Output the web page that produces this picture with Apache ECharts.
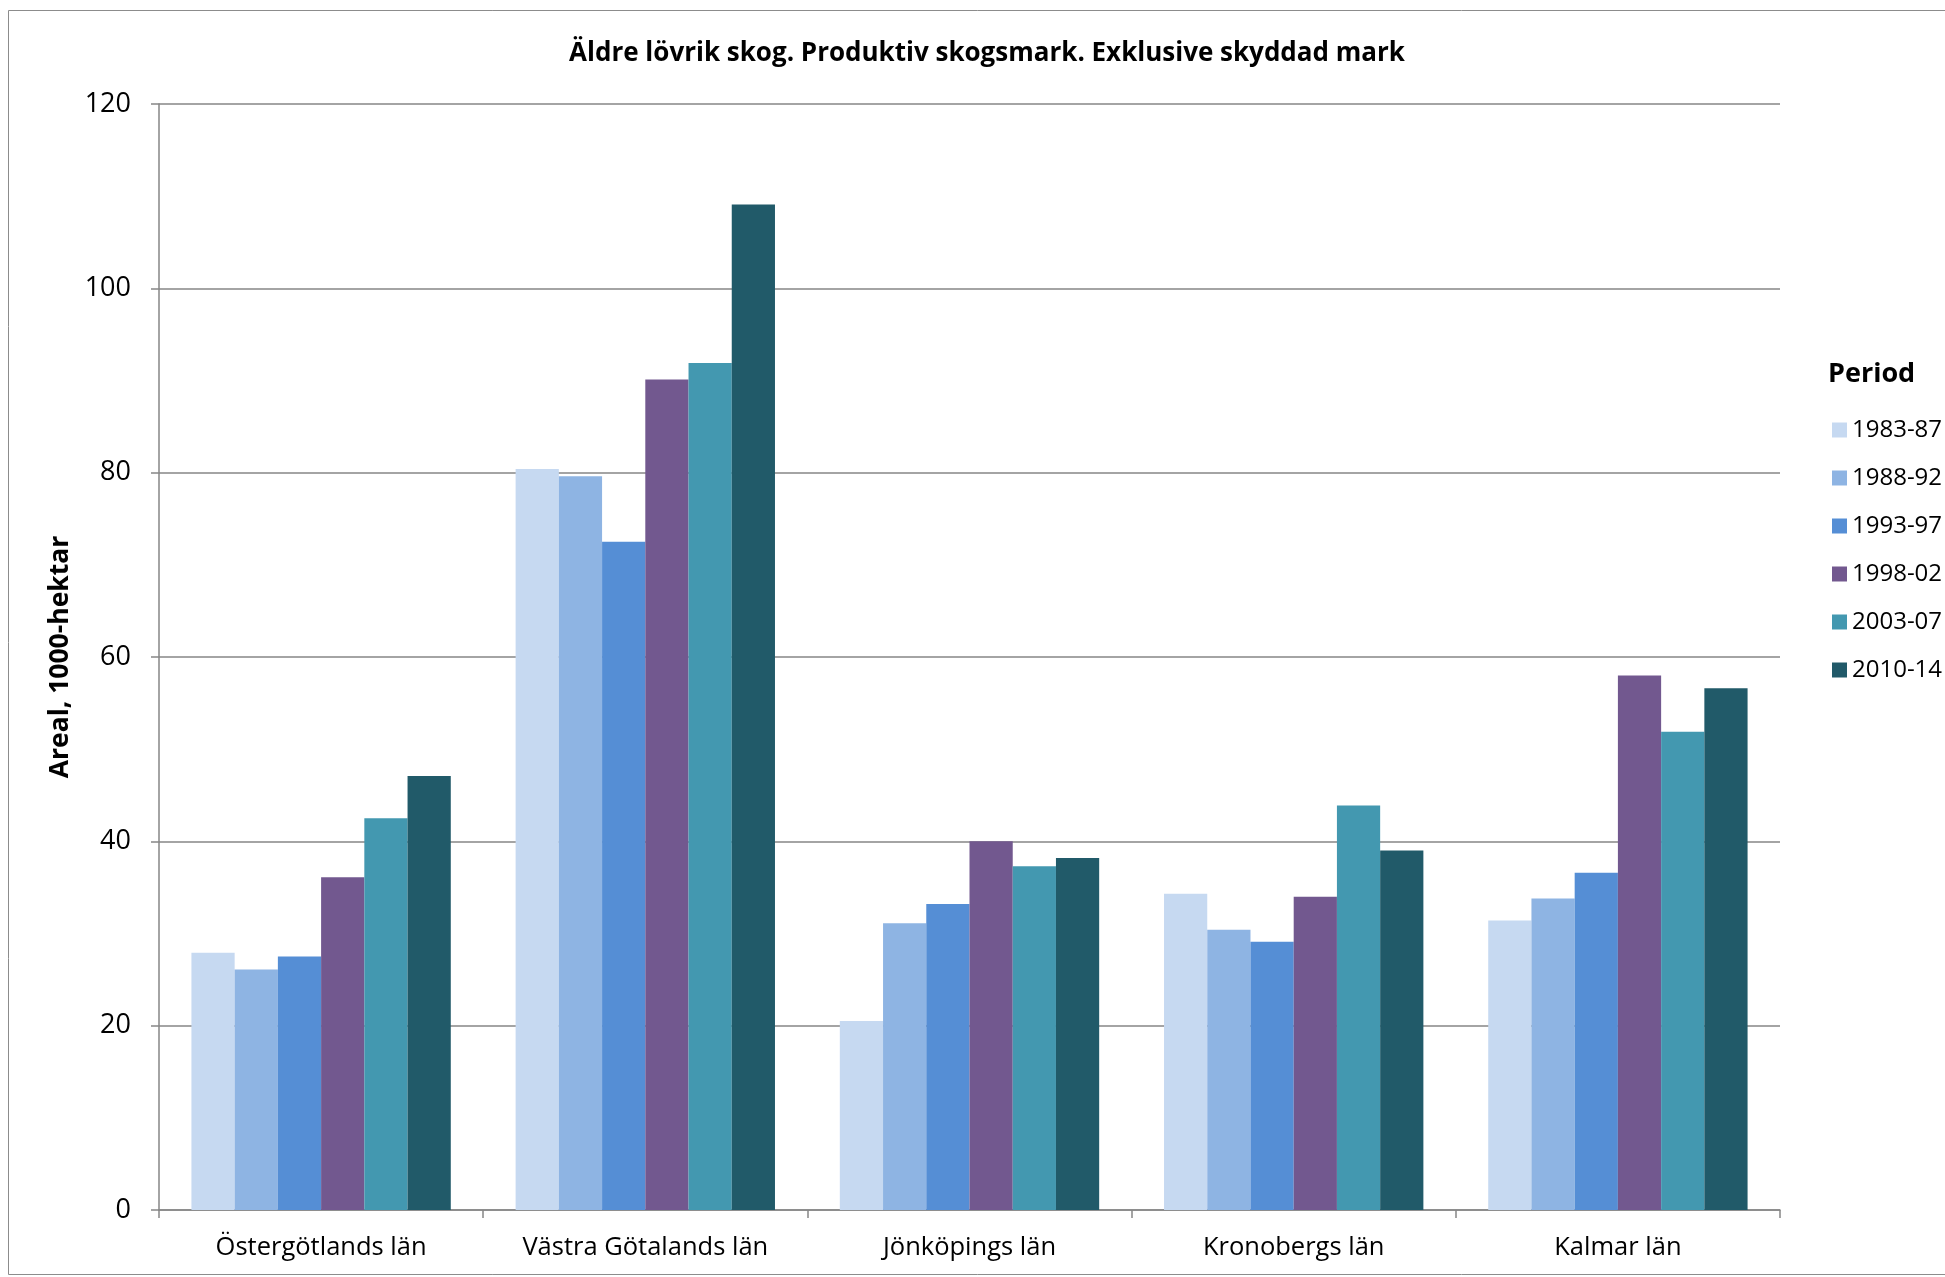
<!DOCTYPE html>
<html>
<head>
<meta charset="utf-8">
<script src="https://cdn.jsdelivr.net/npm/echarts@6/dist/echarts.min.js"></script>
<style>
html,body{margin:0;padding:0;background:#fff;}
#chart{width:1945px;height:1277px;}
</style>
</head>
<body>
<div id="chart"></div>
<script>
const categories = ["Östergötlands län", "Västra Götalands län", "Jönköpings län", "Kronobergs län", "Kalmar län"];
const periods = ["1983-87", "1988-92", "1993-97", "1998-02", "2003-07", "2010-14"];
const s1983 = [27.9, 80.4, 20.5, 34.3, 31.4];
const s1988 = [26.1, 79.6, 31.1, 30.4, 33.8];
const s1993 = [27.5, 72.5, 33.2, 29.1, 36.6];
const s1998 = [36.1, 90.1, 40.0, 34.0, 58.0];
const s2003 = [42.5, 91.9, 37.3, 43.9, 51.9];
const s2010 = [47.1, 109.1, 38.2, 39.0, 56.6];
const yTicks = [0, 20, 40, 60, 80, 100, 120];
const colors = ["#C6D9F1", "#8EB4E3", "#558ED5", "#72588F", "#4398B0", "#215A69"];
const seriesData = [s1983, s1988, s1993, s1998, s2003, s2010];

const font = "'Open Sans', 'Liberation Sans', sans-serif";
const chart = echarts.init(document.getElementById('chart'), null, {renderer: 'canvas'});
chart.setOption({
  animation: false,
  backgroundColor: '#fff',
  textStyle: {fontFamily: font},
  title: {
    text: 'Äldre lövrik skog. Produktiv skogsmark. Exklusive skyddad mark',
    left: 982, top: 36, textAlign: 'center',
    textStyle: {fontFamily: font, fontSize: 26, fontWeight: 'bold', color: '#000'}
  },
  legend: {
    orient: 'vertical',
    left: 1832, top: 418, padding: 0,
    itemWidth: 15, itemHeight: 15, itemGap: 24,
    selectedMode: false,
    data: periods,
    textStyle: {fontFamily: font, fontSize: 24, lineHeight: 24, color: '#000'},
    icon: 'rect'
  },
  graphic: [
    {type: 'rect', shape: {x: 8.5, y: 10.5, width: 1960, height: 1264}, style: {fill: 'none', stroke: '#8c8c8c', lineWidth: 1}, silent: true},
    {type: 'text', left: 1828, top: 361, style: {text: 'Period', fontFamily: font, fontSize: 27, fontWeight: 'bold', fill: '#000'}}
  ],
  grid: {left: 159, right: 165, top: 104, bottom: 67, containLabel: false},
  xAxis: {
    type: 'category',
    data: categories,
    axisLine: {lineStyle: {color: '#868686', width: 1.5}},
    axisTick: {show: true, length: 8, lineStyle: {color: '#868686', width: 1.5}},
    axisLabel: {fontFamily: font, fontSize: 25.5, color: '#000', margin: 25}
  },
  yAxis: {
    type: 'value', min: 0, max: 120, interval: 20,
    name: 'Areal, 1000-hektar',
    nameLocation: 'middle', nameGap: 84, nameRotate: 90,
    nameTextStyle: {fontFamily: font, fontSize: 26.5, fontWeight: 'bold', color: '#000'},
    axisLine: {show: true, lineStyle: {color: '#868686', width: 1.5}},
    axisTick: {show: true, length: 8, lineStyle: {color: '#868686', width: 1.5}},
    splitLine: {lineStyle: {color: '#868686', width: 1.5}},
    axisLabel: {fontFamily: font, fontSize: 27, color: '#000', margin: 28,
      formatter: v => yTicks.includes(v) ? String(v) : ''}
  },
  series: periods.map((p, i) => ({
    name: p, type: 'bar', data: seriesData[i],
    barGap: '0%', barCategoryGap: '20%',
    itemStyle: {color: colors[i]}
  }))
});
</script>
</body>
</html>
